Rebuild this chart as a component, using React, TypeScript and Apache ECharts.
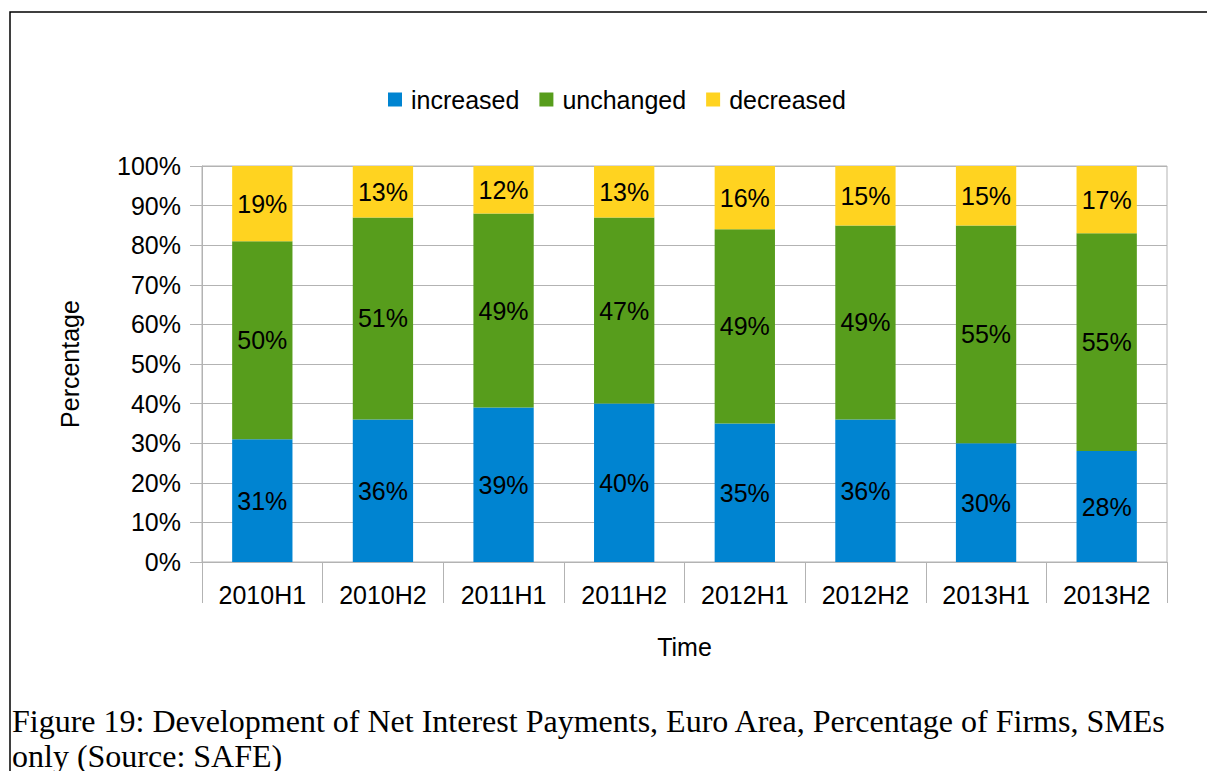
import React, { useEffect, useRef } from "react";
import * as echarts from "echarts";

const categories = ["2010H1", "2010H2", "2011H1", "2011H2", "2012H1", "2012H2", "2013H1", "2013H2"];
const increased = [31, 36, 39, 40, 35, 36, 30, 28];
const unchanged = [50, 51, 49, 47, 49, 49, 55, 55];
const decreased = [19, 13, 12, 13, 16, 15, 15, 17];
const yTicks = { min: 0, max: 100, interval: 10 };
const captionLines = [
  "Figure 19: Development of Net Interest Payments, Euro Area, Percentage of Firms, SMEs",
  "only (Source: SAFE)",
];

const FONT = "Liberation Sans, Arial, sans-serif";
const GRAY = "#b3b3b3";
const FS = 25;

export default function App() {
  const ref = useRef<HTMLDivElement>(null);
  useEffect(() => {
    if (!ref.current) return;
    const chart = echarts.init(ref.current, null, { renderer: "svg" });
    const label = {
      show: true,
      position: "inside",
      color: "#000",
      fontSize: FS,
      fontFamily: FONT,
      formatter: (p: any) => `${p.value}%`,
    };
    const mk = (name: string, data: number[], color: string) => ({
      name,
      type: "bar",
      stack: "total",
      barWidth: "50%",
      data,
      itemStyle: { color },
      label,
      emphasis: { disabled: true },
    });
    chart.setOption({
      animation: false,
      textStyle: { fontFamily: FONT },
      graphic: [
        {
          type: "rect",
          shape: { x: 10, y: 12, width: 1400, height: 1000 },
          style: { fill: "none", stroke: "#000", lineWidth: 1.5 },
          silent: true,
        },
        ...captionLines.map((t, i) => ({
          type: "text",
          x: 12,
          y: 721 + i * 35,
          style: {
            text: t,
            fill: "#000",
            fontSize: 32,
            fontFamily: "Liberation Serif, Times New Roman, serif",
            verticalAlign: "middle",
          },
          silent: true,
        })),
      ],
      legend: {
        left: 383,
        top: 82,
        itemWidth: 14,
        itemHeight: 14,
        itemGap: 20,
        icon: "rect",
        textStyle: { fontSize: FS, color: "#000", fontFamily: FONT, padding: [0, 0, 0, 4] },
        data: ["increased", "unchanged", "decreased"],
      },
      grid: {
        left: 202,
        right: 40,
        top: 166,
        bottom: 209,
        show: true,
        borderColor: GRAY,
        borderWidth: 1,
        backgroundColor: "transparent",
      },
      xAxis: {
        type: "category",
        data: categories,
        name: "Time",
        nameLocation: "middle",
        nameGap: 72,
        nameTextStyle: { fontSize: FS, color: "#000", fontFamily: FONT },
        axisLine: { lineStyle: { color: GRAY } },
        axisTick: { show: true, length: 41, interval: 0, lineStyle: { color: GRAY } },
        axisLabel: { fontSize: FS, color: "#000", margin: 20, interval: 0, fontFamily: FONT },
        splitLine: { show: false },
      },
      yAxis: {
        type: "value",
        min: yTicks.min,
        max: yTicks.max,
        interval: yTicks.interval,
        name: "Percentage",
        nameLocation: "middle",
        nameGap: 120,
        nameRotate: 90,
        nameTextStyle: { fontSize: FS, color: "#000", fontFamily: FONT },
        axisLine: { show: true, lineStyle: { color: GRAY } },
        axisTick: { show: true, length: 12, lineStyle: { color: GRAY } },
        axisLabel: { fontSize: FS, color: "#000", margin: 21, formatter: "{value}%", fontFamily: FONT },
        splitLine: { show: true, lineStyle: { color: GRAY } },
      },
      series: [
        mk("increased", increased, "#0084d1"),
        mk("unchanged", unchanged, "#579d1c"),
        mk("decreased", decreased, "#ffd320"),
      ],
    });
    return () => chart.dispose();
  }, []);
  return (
    <div
      ref={ref}
      style={{ position: "absolute", left: 0, top: 0, width: 1207, height: 771, background: "#fff" }}
    />
  );
}
